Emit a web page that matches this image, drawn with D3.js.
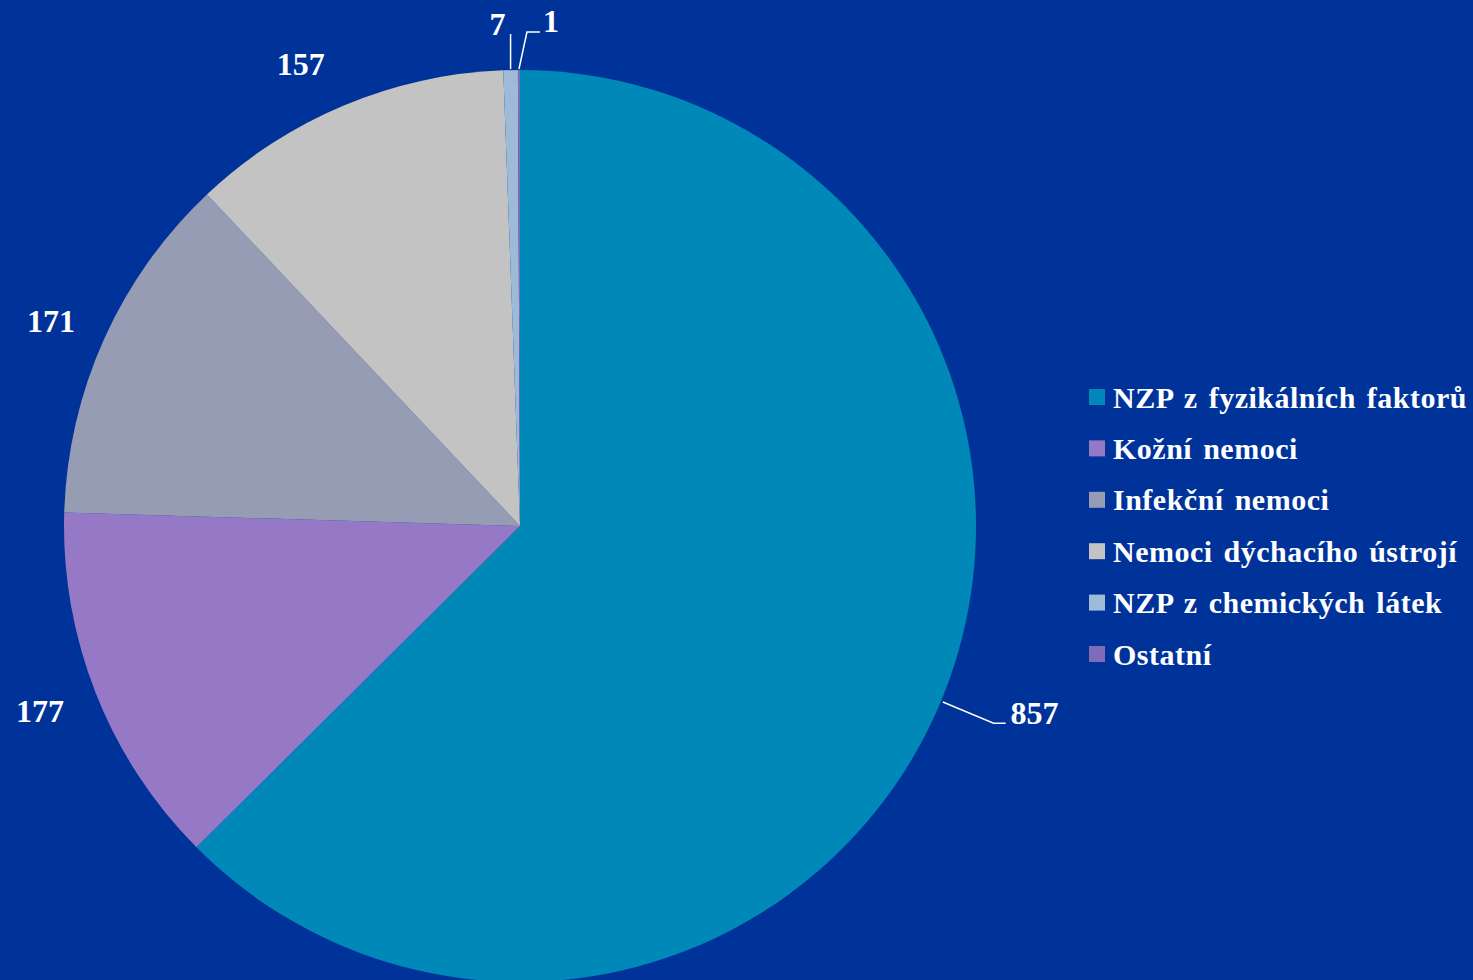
<!DOCTYPE html>
<html>
<head>
<meta charset="utf-8">
<script src="https://cdn.jsdelivr.net/npm/d3@7"></script>
<style>
  body { margin: 0; background: #003399; overflow: hidden; }
  text { font-family: "Liberation Serif", "DejaVu Serif", serif; font-weight: bold; fill: #fff; }
</style>
</head>
<body>
<script>
// data
var categories = ['NZP z fyzikálních faktorů', 'Kožní nemoci', 'Infekční nemoci',
  'Nemoci dýchacího ústrojí', 'NZP z chemických látek', 'Ostatní'];
var values = [857, 177, 171, 157, 7, 1];
var colors = ['#0088B8', '#9579C6', '#979CB5', '#C3C3C3', '#9DBAD6', '#7F6BB8'];

var width = 1473, height = 980;
var cx = 520, cy = 526, radius = 456;

var svg = d3.select('body').append('svg')
  .attr('width', width)
  .attr('height', height);

var g = svg.append('g')
  .attr('transform', `translate(${cx}, ${cy})`);

var color = d3.scaleOrdinal().domain(categories).range(colors);

var pie = d3.pie().sort(null).value(function(d) { return d.v; });
var data = categories.map(function(c, i) { return { c: c, v: values[i] }; });
var arcs = pie(data);

var arc = d3.arc().innerRadius(0).outerRadius(radius);

g.selectAll('path.slice')
  .data(arcs)
  .enter().append('path')
  .attr('class', 'slice')
  .attr('fill', function(d) { return color(d.data.c); })
  .attr('d', arc);

// labels
function polar(a, r) { return [r * Math.sin(a), -r * Math.cos(a)]; }
function mid(d) { return (d.startAngle + d.endAngle) / 2; }

// small nudges so the labels sit where excel put them
var nudge = [[0, 0], [-5, -3], [-3, 4], [-22, 9]];

arcs.forEach(function(d, i) {
  var m = mid(d);
  if (i === 0) {
    // leader line for 857
    var p0 = polar(m, radius + 2), p1 = polar(m, radius * 1.125);
    g.append('polyline')
      .attr('points', [p0, p1, [p1[0] + 12, p1[1]]].map(String).join(' '))
      .attr('fill', 'none').attr('stroke', '#fff').attr('stroke-width', 1.5);
    g.append('text')
      .attr('x', p1[0] + 17).attr('y', p1[1] + 1)
      .style('font-size', '32px')
      .text(d.data.v);
  } else if (i <= 3) {
    var p = polar(m, radius * 1.12);
    g.append('text')
      .attr('x', p[0] + nudge[i][0]).attr('y', p[1] + nudge[i][1])
      .attr('text-anchor', 'middle')
      .attr('dy', '0.35em')
      .style('font-size', '32px')
      .text(d.data.v);
  }
});

// the two thin slices at the top
var a7 = arcs[4], a1 = arcs[5];
var q0 = polar(mid(a7), radius + 1);
g.append('line')
  .attr('x1', q0[0]).attr('y1', q0[1])
  .attr('x2', q0[0]).attr('y2', q0[1] - 35)
  .attr('stroke', '#fff').attr('stroke-width', 1.5);
g.append('text')
  .attr('x', q0[0] - 13).attr('y', q0[1] - 45)
  .attr('text-anchor', 'middle').attr('dy', '0.35em')
  .style('font-size', '32px')
  .text(a7.data.v);

var r0 = polar(mid(a1), radius + 1);
g.append('polyline')
  .attr('points', [r0, [r0[0] + 8, r0[1] - 37], [r0[0] + 21, r0[1] - 37]].map(String).join(' '))
  .attr('fill', 'none').attr('stroke', '#fff').attr('stroke-width', 1.5);
g.append('text')
  .attr('x', r0[0] + 32).attr('y', r0[1] - 48)
  .attr('text-anchor', 'middle').attr('dy', '0.35em')
  .style('font-size', '32px')
  .text(a1.data.v);

// legend
var legendY = d3.scalePoint().domain(categories).range([397, 654]);

var legend = svg.append('g').attr('class', 'legend');
var item = legend.selectAll('g')
  .data(categories)
  .enter().append('g')
  .attr('transform', function(d) { return `translate(1089, ${legendY(d)})`; });

item.append('rect')
  .attr('x', 0).attr('y', -8)
  .attr('width', 16).attr('height', 16)
  .attr('fill', function(d) { return color(d); });

item.append('text')
  .attr('x', 24)
  .attr('dy', '0.35em')
  .style('font-size', '30px')
  .style('letter-spacing', '0.5px')
  .style('word-spacing', '3px')
  .text(function(d) { return d; });
</script>
</body>
</html>
